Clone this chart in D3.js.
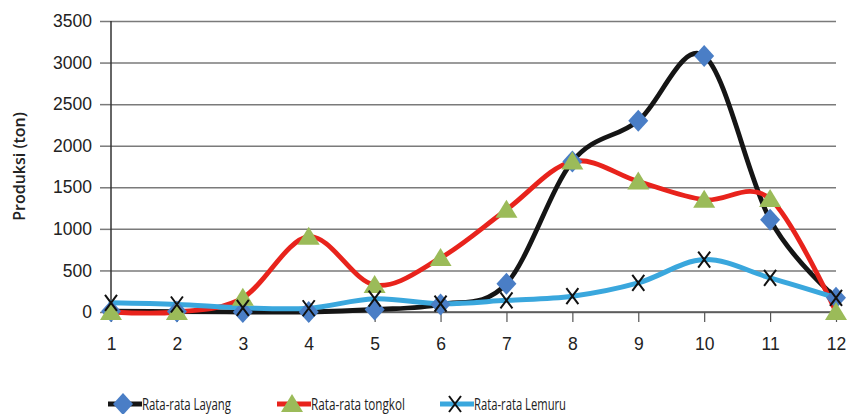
<!DOCTYPE html>
<html>
<head>
<meta charset="utf-8">
<script src="https://cdn.jsdelivr.net/npm/d3@7"></script>
<style>
  html, body { margin: 0; padding: 0; background: #fff; }
  svg { display: block; font-family: "Open Sans", "DejaVu Sans", sans-serif; }
</style>
</head>
<body>
<svg id="chart" width="847" height="414"></svg>
<script>
// Monthly average production (ton)
const months = ["1", "2", "3", "4", "5", "6", "7", "8", "9", "10", "11", "12"];
const layang  = [10, 5, 0, 0, 30, 90, 340, 1810, 2300, 3080, 1110, 170];
const tongkol = [0, 0, 170, 905, 325, 650, 1230, 1810, 1570, 1350, 1360, 0];
const lemuru  = [110, 90, 50, 45, 160, 100, 140, 190, 350, 630, 410, 170];
const yTicks  = [0, 500, 1000, 1500, 2000, 2500, 3000, 3500];
const seriesNames = ["Rata-rata Layang", "Rata-rata tongkol", "Rata-rata Lemuru"];
const yTitle = "Produksi (ton)";

const svg = d3.select("#chart");
const plotLeft = 111, plotRight = 836, plotTop = 21, plotBottom = 312;

const x = d3.scalePoint().domain(months).range([plotLeft, plotRight]);
const y = d3.scaleLinear().domain([0, 3500]).range([plotBottom, plotTop]);

// Horizontal gridlines with short ticks to the left of the axis
const yAxis = svg.append("g")
  .attr("transform", `translate(${plotLeft},0)`)
  .call(d3.axisLeft(y).tickValues(yTicks).tickSize(11).tickPadding(8).tickFormat(d3.format("d")));
yAxis.select(".domain").remove();
yAxis.selectAll(".tick line").attr("stroke", "#7a7a7a").attr("stroke-width", 1.5);
yAxis.selectAll(".tick text").attr("font-size", 17.5).attr("fill", "#222");
yAxis.selectAll(".tick").append("line")
  .attr("x1", 0).attr("x2", plotRight - plotLeft)
  .attr("stroke", "#7a7a7a").attr("stroke-width", 1.5);

// Category axis
const xAxis = svg.append("g")
  .attr("transform", `translate(0,${plotBottom})`)
  .call(d3.axisBottom(x).tickSize(10).tickPadding(16));
xAxis.select(".domain").remove();
xAxis.selectAll(".tick line").attr("stroke", "#555").attr("stroke-width", 1.2);
xAxis.selectAll(".tick text").attr("font-size", 17.5).attr("fill", "#222");
svg.append("line").attr("x1", plotLeft).attr("x2", plotRight).attr("y1", plotBottom).attr("y2", plotBottom)
  .attr("stroke", "#555").attr("stroke-width", 1.5);
svg.append("line").attr("x1", plotLeft).attr("x2", plotLeft).attr("y1", plotTop).attr("y2", plotBottom)
  .attr("stroke", "#333").attr("stroke-width", 1.5);

// Axis title
svg.append("text")
  .attr("transform", `translate(25,${(plotTop + plotBottom) / 2}) rotate(-90)`)
  .attr("text-anchor", "middle")
  .attr("font-size", 16).attr("font-weight", 600).attr("fill", "#222")
  .text(yTitle);

const curve = d3.curveCatmullRom.alpha(0);
const line = d3.line().x((d, i) => x(months[i])).y(d => y(d)).curve(curve);

const series = [
  { values: layang, color: "#151515", width: 4.8, marker: "diamond" },
  { values: tongkol, color: "#e8231c", width: 4.8, marker: "triangle" },
  { values: lemuru, color: "#3aa7dd", width: 5, marker: "cross" }
];

const diamond = "M0,-11L10,0L0,11L-10,0Z";
const triangle = "M0,-10L11,8L-11,8Z";
const cross = "M-6,-8L6,8M6,-8L-6,8";

function drawMarker(g, type) {
  if (type === "diamond") g.append("path").attr("d", diamond).attr("fill", "#4a7ec6");
  else if (type === "triangle") g.append("path").attr("d", triangle).attr("fill", "#9bbb59");
  else g.append("path").attr("d", cross).attr("stroke", "#111").attr("stroke-width", 2).attr("fill", "none");
}

series.forEach(s => {
  svg.append("path").datum(s.values)
    .attr("d", line).attr("fill", "none")
    .attr("stroke", s.color).attr("stroke-width", s.width)
    .attr("stroke-linejoin", "round").attr("stroke-linecap", "round");
});
series.forEach(s => {
  s.values.forEach((v, i) => {
    const g = svg.append("g").attr("transform", `translate(${x(months[i])},${y(v)})`);
    drawMarker(g, s.marker);
  });
});

// Legend (condensed labels)
const legendY = 404;
const legendX = [108, 277, 440];
const legendTextWidth = [89, 94, 92];
series.forEach((s, i) => {
  const g = svg.append("g").attr("transform", `translate(${legendX[i]},${legendY})`);
  g.append("line").attr("x1", 0).attr("x2", 34).attr("stroke", s.color).attr("stroke-width", 5);
  const m = g.append("g").attr("transform", "translate(15,0)");
  drawMarker(m, s.marker);
  g.append("text").attr("x", 34).attr("y", 6).attr("font-size", 16.5).attr("fill", "#222")
    .attr("textLength", legendTextWidth[i]).attr("lengthAdjust", "spacingAndGlyphs")
    .text(seriesNames[i]);
});
</script>
</body>
</html>
